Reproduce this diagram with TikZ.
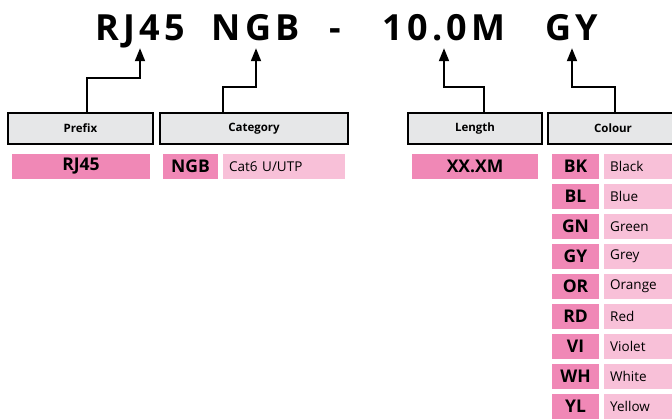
\documentclass[tikz,border=0pt]{standalone}
\usepackage{fontspec}
\setmainfont{Open Sans}
\newfontfamily\titlefont[LetterSpace=12]{Open Sans}
\usetikzlibrary{arrows.meta,positioning}
\definecolor{headgray}{HTML}{E6E7E8}
\definecolor{pinkdark}{HTML}{F088B6}
\definecolor{pinklight}{HTML}{F8C0D8}
\tikzset{
head/.style = {draw, line width=1.5pt, fill=headgray, minimum height=31pt, inner sep=0pt, font=\bfseries\fontsize{11.5}{11.5}\selectfont},
code/.style = {fill=pinkdark, minimum height=25pt, inner sep=0pt, font=\bfseries\fontsize{17.5}{17.5}\selectfont},
desc/.style = {fill=pinklight, minimum height=25pt, inner xsep=6pt, inner ysep=0pt, anchor=west, align=left, font=\fontsize{13.5}{13.5}\selectfont},
title/.style = {anchor=base, inner sep=0pt, text depth=0pt, font=\titlefont\bfseries\fontsize{36}{36}\selectfont},
link/.style = {line width=1.8pt, -{Triangle[length=13pt,width=10pt]}}
}

\begin{document}
\begin{tikzpicture}[x=1pt, y=-1pt]
		\path[use as bounding box] (0,0) rectangle (672,418);
		\clip (0,0) rectangle (672,418);

		% part number
		\node [title] (tRJ) at (140,40) {RJ45};
		\node [title] (tNGB) at (256,40) {NGB};
		\node [title] (tDash) at (335,40) {-};
		\node [title] (tLen) at (444,40) {10.0M};
		\node [title] (tGY) at (572,40) {GY};

		% headings
		\node [head, minimum width=145pt] (prefix) at (80.5,128.5) {Prefix};
		\node [head, minimum width=188pt] (category) at (254,128.5) {Category};
		\node [head, minimum width=134pt] (length) at (475,128.5) {Length};
		\node [head, minimum width=130pt] (colour) at (613,128.5) {Colour};

		\draw [link] ([xshift=6.5pt]prefix.north) -- ++(0,-34) -| ([yshift=-8pt]tRJ.south);
		\draw [link] ([xshift=-31pt]category.north) -- ++(0,-25) -| ([yshift=-8pt]tNGB.south);
		\draw [link] ([xshift=9pt]length.north) -- ++(0,-25) -| ([yshift=-8pt]tLen.south);
		\draw [link] ([xshift=2pt]colour.north) -- ++(0,-25) -| ([yshift=-8pt]tGY.south);

		% codes
		\node [code, minimum width=138pt] (cRJ) at (81,166.5) {RJ45};
		\node [code, minimum width=55pt] (cNGB) at (190.5,166.5) {NGB};
		\node [desc, text width=110pt] (nNGB) at (223,166.5) {Cat6 U/UTP};
		\node [code, minimum width=126pt] (cLen) at (475,166.5) {XX.XM};

		\foreach \cc/\cn [count=\i from 0] in {BK/Black, BL/Blue, GN/Green, GY/Grey, OR/Orange, RD/Red, VI/Violet, WH/White, YL/Yellow} {
			\node [code, minimum width=47pt] (c\cc) at (575.5,166.5+30*\i) {\cc};
			\node [desc, text width=68pt] (n\cc) at (604,166.5+30*\i) {\cn};
		}
\end{tikzpicture}
\end{document}
